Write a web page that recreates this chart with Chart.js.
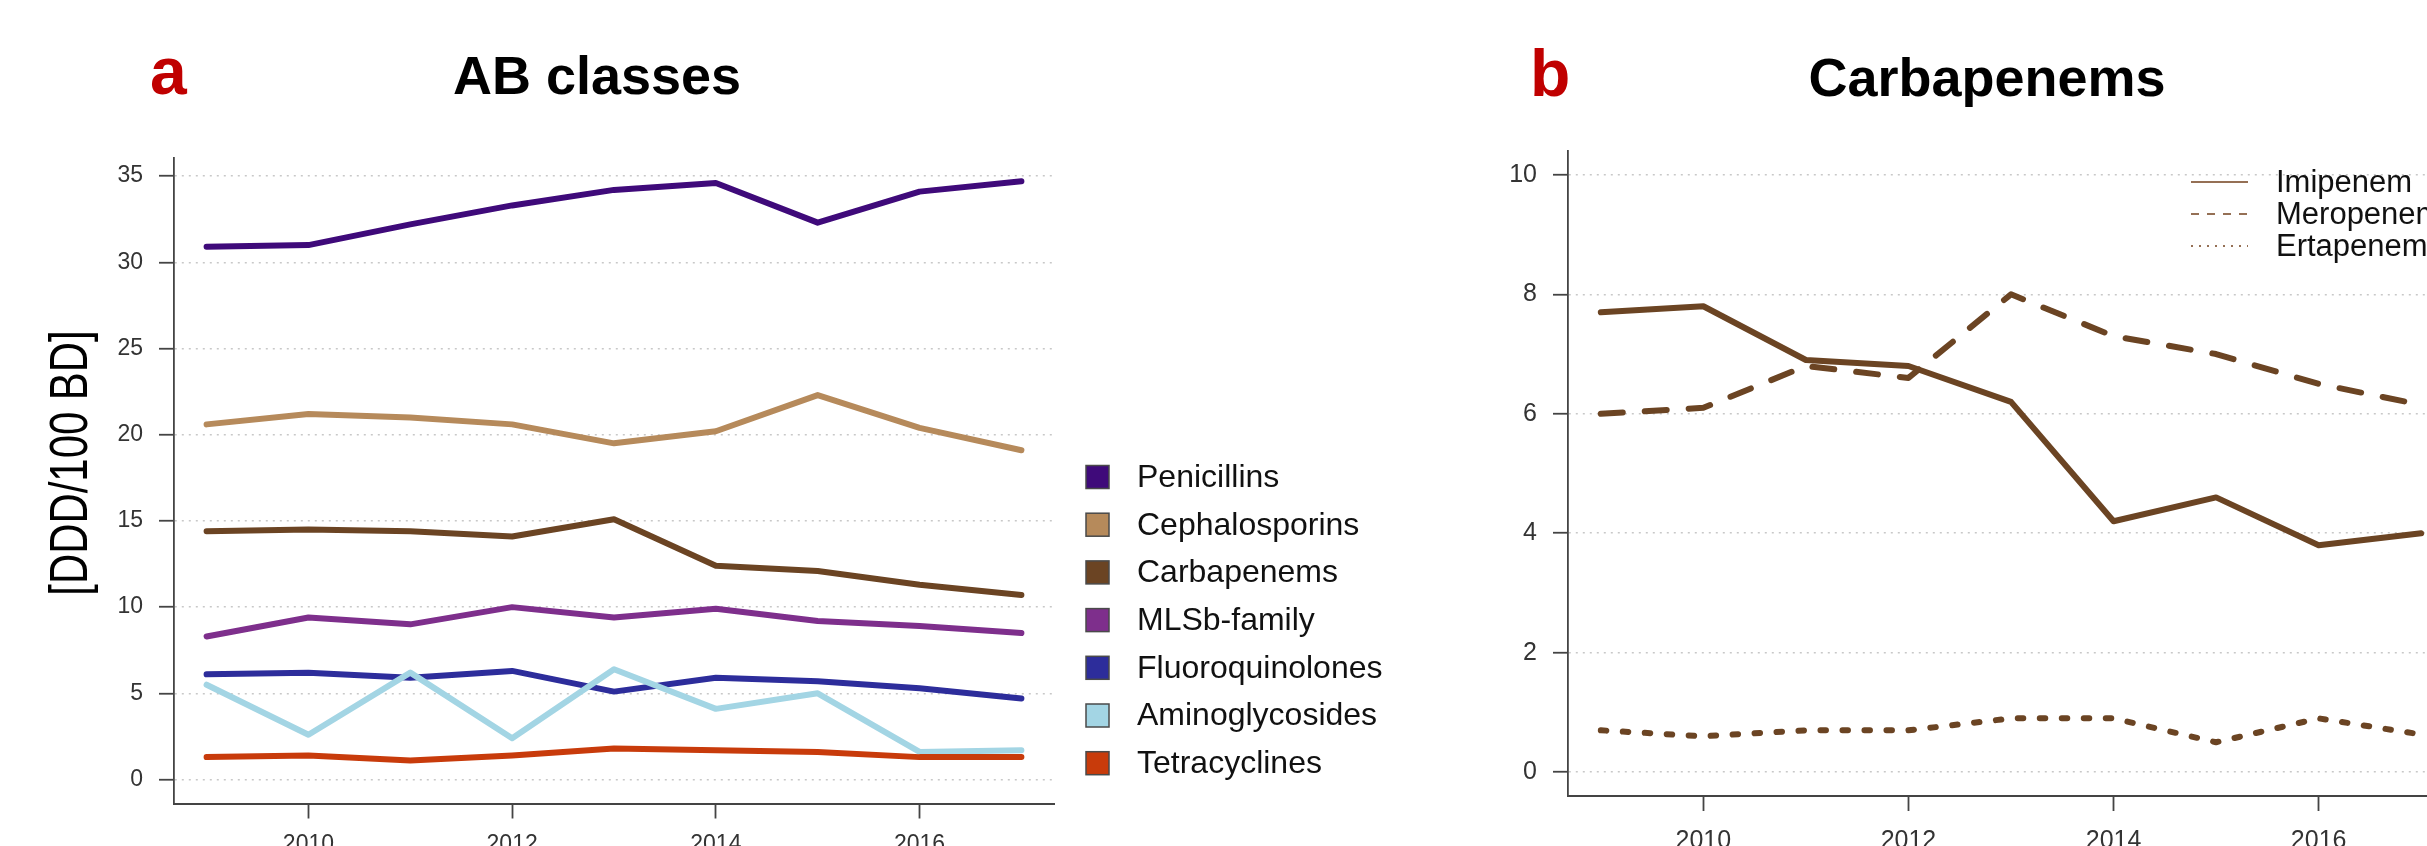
<!DOCTYPE html>
<html>
<head>
<meta charset="utf-8">
<script src="https://cdn.jsdelivr.net/npm/chart.js@4.4.1/dist/chart.umd.min.js"></script>
<style>
  html, body { margin: 0; padding: 0; background: #fff; overflow: hidden; width: 2427px; height: 846px; }
  #chartA { position: absolute; left: 0; top: 0; }
  #chartB { position: absolute; left: 1450px; top: 0; }
</style>
</head>
<body>
<canvas id="chartA" width="1450" height="900"></canvas>
<canvas id="chartB" width="1150" height="900"></canvas>
<script>
const years = [2009, 2010, 2011, 2012, 2013, 2014, 2015, 2016, 2017];
const yearTicks = [2010, 2012, 2014, 2016];

// panel a - DDD/100 BD per antibiotic class
const penicillins      = [30.9, 31.0, 32.2, 33.3, 34.2, 34.6, 32.3, 34.1, 34.7];
const cephalosporins   = [20.6, 21.2, 21.0, 20.6, 19.5, 20.2, 22.3, 20.4, 19.1];
const carbapenems      = [14.4, 14.5, 14.4, 14.1, 15.1, 12.4, 12.1, 11.3, 10.7];
const mlsbFamily       = [8.3, 9.4, 9.0, 10.0, 9.4, 9.9, 9.2, 8.9, 8.5];
const fluoroquinolones = [6.1, 6.2, 5.9, 6.3, 5.1, 5.9, 5.7, 5.3, 4.7];
const aminoglycosides  = [5.5, 2.6, 6.2, 2.4, 6.4, 4.1, 5.0, 1.6, 1.7];
const tetracyclines    = [1.3, 1.4, 1.1, 1.4, 1.8, 1.7, 1.6, 1.3, 1.3];
const classNames = ['Penicillins', 'Cephalosporins', 'Carbapenems', 'MLSb-family',
                    'Fluoroquinolones', 'Aminoglycosides', 'Tetracyclines'];
const classColors = ['#3f0a7a', '#b68a5b', '#6b4423', '#7e2f8c', '#2d2d9b', '#a3d5e4', '#c83b0b'];
const ticksA = [0, 5, 10, 15, 20, 25, 30, 35];

// panel b - carbapenems split up
const imipenem  = [7.7, 7.8, 6.9, 6.8, 6.2, 4.2, 4.6, 3.8, 4.0];
const meropenem = [6.0, 6.1, 6.8, 6.6, 8.0, 7.3, 7.0, 6.5, 6.15];
const ertapenem = [0.7, 0.6, 0.7, 0.7, 0.9, 0.9, 0.5, 0.9, 0.63];
const carbaNames = ['Imipenem', 'Meropenem', 'Ertapenem'];
const ticksB = [0, 2, 4, 6, 8, 10];

const FONT = "'Liberation Sans', Arial, Helvetica, sans-serif";
const BROWN = '#6b4423';

function toPoints(vals) {
  return vals.map((v, i) => ({ x: years[i], y: v }));
}

// panel letter, title and rotated y title
const decorPlugin = {
  id: 'decor',
  afterDraw(chart, args, opts) {
    const ctx = chart.ctx;
    ctx.save();
    ctx.textBaseline = 'alphabetic';
    ctx.textAlign = 'left';
    ctx.fillStyle = '#c00000';
    ctx.font = 'bold 66px ' + FONT;
    ctx.fillText(opts.letter, opts.letterX, opts.baseline);
    ctx.fillStyle = '#000';
    ctx.textAlign = 'center';
    ctx.font = 'bold 54px ' + FONT;
    ctx.fillText(opts.title, opts.titleX, opts.baseline);
    if (opts.yTitle) {
      ctx.translate(opts.yTitleX, opts.yTitleY);
      ctx.rotate(-Math.PI / 2);
      ctx.scale(0.79, 1);
      ctx.font = '53px ' + FONT;
      ctx.fillText(opts.yTitle, 0, 0);
    }
    ctx.restore();
  }
};

// filled squares legend (panel a)
const boxLegendPlugin = {
  id: 'boxLegend',
  afterDraw(chart, args, opts) {
    if (!opts.on) return;
    const ctx = chart.ctx;
    ctx.save();
    ctx.font = opts.fontSize + 'px ' + FONT;
    ctx.textBaseline = 'middle';
    ctx.textAlign = 'left';
    chart.data.datasets.forEach((ds, i) => {
      const cy = opts.y + i * opts.pitch;
      const half = opts.box / 2;
      ctx.fillStyle = ds.borderColor;
      ctx.fillRect(opts.x, cy - half, opts.box, opts.box);
      ctx.strokeStyle = '#4a4a4a';
      ctx.lineWidth = 1.5;
      ctx.strokeRect(opts.x, cy - half, opts.box, opts.box);
      ctx.fillStyle = '#111';
      ctx.fillText(ds.label, opts.textX, cy + 1);
    });
    ctx.restore();
  }
};

// line sample legend (panel b)
const lineLegendPlugin = {
  id: 'lineLegend',
  afterDraw(chart, args, opts) {
    if (!opts.on) return;
    const ctx = chart.ctx;
    ctx.save();
    ctx.font = opts.fontSize + 'px ' + FONT;
    ctx.textBaseline = 'middle';
    ctx.textAlign = 'left';
    chart.data.datasets.forEach((ds, i) => {
      const cy = opts.y + i * opts.pitch;
      ctx.strokeStyle = '#957055';
      ctx.lineWidth = 2;
      ctx.lineCap = 'butt';
      ctx.setLineDash(opts.dashes[i]);
      ctx.beginPath();
      ctx.moveTo(opts.x1, cy);
      ctx.lineTo(opts.x2, cy);
      ctx.stroke();
      ctx.setLineDash([]);
      ctx.fillStyle = '#111';
      ctx.fillText(ds.label, opts.textX, cy + 1);
    });
    ctx.restore();
  }
};

function yScale(min, max, tickVals, fontSize, width) {
  return {
    type: 'linear',
    min: min,
    max: max,
    afterBuildTicks: s => { s.ticks = tickVals.map(v => ({ value: v })); },
    afterFit: s => { s.width = width; },
    ticks: { color: '#333', font: { family: FONT, size: fontSize }, padding: 16 },
    grid: { color: '#c8c8c8', lineWidth: 1.5, tickLength: 15, tickColor: '#444', tickWidth: 1.8,
            borderDash: [2, 5] },
    border: { display: true, color: '#444', width: 1.8, dash: [2, 5] }
  };
}

function xScale(fontSize, height, pad) {
  return {
    type: 'linear',
    min: 2008.68,
    max: 2017.32,
    afterBuildTicks: s => { s.ticks = yearTicks.map(v => ({ value: v })); },
    afterFit: s => { s.height = height; },
    ticks: { color: '#333', font: { family: FONT, size: fontSize }, padding: pad,
             maxRotation: 0, autoSkip: false, callback: v => String(v) },
    grid: { drawOnChartArea: false, drawTicks: true, tickLength: 15, tickColor: '#444', tickWidth: 1.8 },
    border: { display: true, color: '#444', width: 2 }
  };
}

const classSeries = [penicillins, cephalosporins, carbapenems, mlsbFamily,
                     fluoroquinolones, aminoglycosides, tetracyclines];

const chartA = new Chart(document.getElementById('chartA'), {
  type: 'line',
  data: {
    datasets: classSeries.map((vals, i) => ({
      label: classNames[i],
      data: toPoints(vals),
      borderColor: classColors[i],
      backgroundColor: classColors[i],
      borderWidth: 6,
      pointRadius: 0,
      tension: 0,
      fill: false,
      borderJoinStyle: 'round',
      borderCapStyle: 'round',
      order: -i
    }))
  },
  options: {
    responsive: false,
    animation: false,
    devicePixelRatio: 1,
    layout: { padding: { left: 0, top: 158, right: 396, bottom: 0 } },
    scales: {
      x: xScale(23, 96.5, 12),
      y: yScale(-1.39, 36.05, ticksA, 23, 174)
    },
    plugins: {
      legend: { display: false },
      tooltip: { enabled: false },
      decor: { letter: 'a', letterX: 150, title: 'AB classes', titleX: 597, baseline: 94,
               yTitle: '[DDD/100 BD]', yTitleX: 87, yTitleY: 463 },
      boxLegend: { on: true, x: 1086, y: 477, pitch: 47.7, box: 23, textX: 1137, fontSize: 32 },
      lineLegend: { on: false }
    }
  },
  plugins: [decorPlugin, boxLegendPlugin, lineLegendPlugin]
});

const carbaSeries = [imipenem, meropenem, ertapenem];
const carbaDash = [[], [22, 22], [5.5, 16.5]];

const chartB = new Chart(document.getElementById('chartB'), {
  type: 'line',
  data: {
    datasets: carbaSeries.map((vals, i) => ({
      label: carbaNames[i],
      data: toPoints(vals),
      borderColor: BROWN,
      backgroundColor: BROWN,
      borderWidth: 6,
      borderDash: carbaDash[i],
      pointRadius: 0,
      tension: 0,
      fill: false,
      borderJoinStyle: 'round',
      borderCapStyle: 'round',
      order: -i
    }))
  },
  options: {
    responsive: false,
    animation: false,
    devicePixelRatio: 1,
    layout: { padding: { left: 0, top: 151, right: 146, bottom: 0 } },
    scales: {
      x: xScale(25, 104, 15),
      y: yScale(-0.4, 10.4, ticksB, 25, 118)
    },
    plugins: {
      legend: { display: false },
      tooltip: { enabled: false },
      decor: { letter: 'b', letterX: 80, title: 'Carbapenems', titleX: 537, baseline: 96 },
      boxLegend: { on: false },
      lineLegend: { on: true, x1: 741, x2: 798, y: 182, pitch: 32, textX: 826, fontSize: 31,
                    dashes: [[], [8, 8], [2, 6]] }
    }
  },
  plugins: [decorPlugin, boxLegendPlugin, lineLegendPlugin]
});
</script>
</body>
</html>
